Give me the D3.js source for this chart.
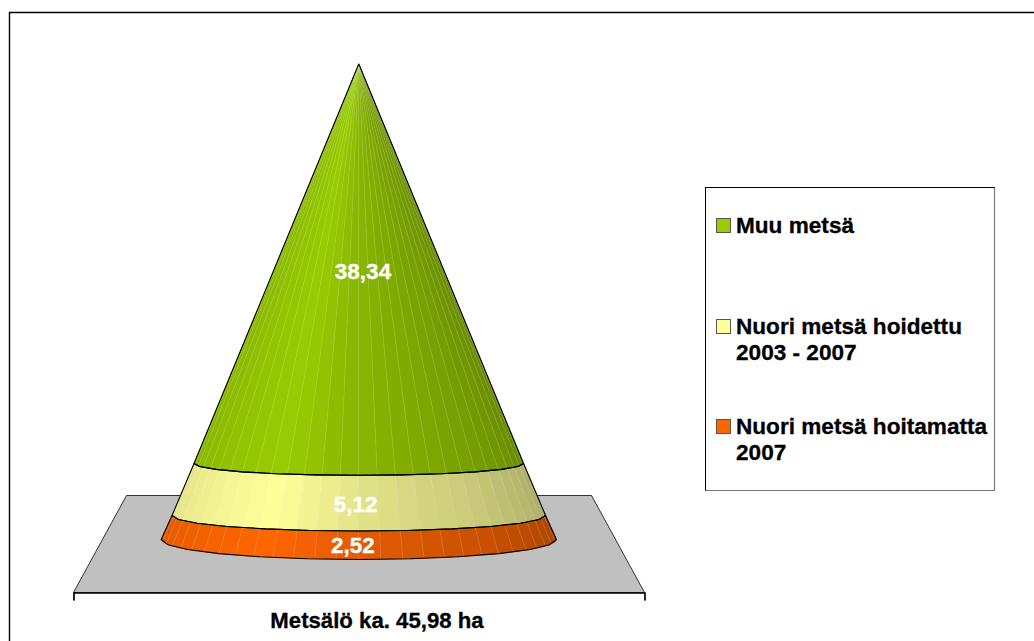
<!DOCTYPE html>
<html>
<head>
<meta charset="utf-8">
<script src="https://cdnjs.cloudflare.com/ajax/libs/d3/7.8.5/d3.min.js"></script>
<style>
html,body{margin:0;padding:0;background:#fff;overflow:hidden}
svg{display:block}
text{font-family:"Liberation Sans",Arial,sans-serif;font-weight:bold;stroke-width:.3}
</style>
</head>
<body>
<script>
// Data
const seriesNames = [["Nuori metsä hoitamatta","2007"],["Nuori metsä hoidettu","2003 - 2007"],["Muu metsä"]];
const seriesValues = [2.52, 5.12, 38.34];
const valueLabels = ["2,52","5,12","38,34"];
const seriesColors = ["#FF6600","#FFFF99","#99CC00"];
const categoryLabel = "Metsälö ka. 45,98 ha";

// Layout
const W = 1034, H = 641;
const stops = [0, ...d3.cumsum(seriesValues)];
const cx = 358.8;
const y = d3.scaleLinear().domain(stops).range([539.5,515.5,463.5,64]);
const radius = d3.scaleLinear().domain([0,stops[3]]).range([197.6,0]);
const sag = d3.scaleLinear().domain(stops).range([20,15.5,11.8,0]);
const shade = d3.scaleLinear().domain([0,62,90,180]).range([.88,1,.89,.66]);
const facets = 28;
const labelX = [353,355.7,363], labelY = [553,511.7,279];

const svg = d3.select("body").append("svg").attr("width",W).attr("height",H);

// chart frame
svg.append("path").attr("d",`M9.5,${H}V12.5H${W}`).attr("fill","none").attr("stroke","#000").attr("stroke-width",1.4);

// floor
const axisScale = d3.scaleLinear().domain([0,1]).range([73.5,644.5]);
const floorTopInset = 53;
svg.append("path")
  .attr("d",`M${axisScale(0)+floorTopInset},495.5H${axisScale(1)-floorTopInset}L${axisScale(1)},592.5H${axisScale(0)}Z`)
  .attr("fill","#C0C0C0").attr("stroke","#333").attr("stroke-width",1);
const ax = svg.append("g").attr("transform","translate(0,592.5)")
  .call(d3.axisBottom(axisScale).tickValues([0,1]).tickSize(8).tickFormat(""));
ax.selectAll("path,line").attr("stroke","#000").attr("stroke-width",1);
ax.select("path").attr("stroke-width",1.4);
svg.append("text").attr("x",377).attr("y",628).attr("text-anchor","middle").attr("font-size",22.2).attr("fill","#000").attr("stroke","#000").text(categoryLabel);

// cone
const rad = d => d*Math.PI/180;
const ptAt = (v,deg) => [cx - radius(v)*Math.cos(rad(deg)), y(v) + sag(v)*Math.sin(rad(deg))];
const arc = (v,a0,a1) => d3.range(0,13).map(i => ptAt(v,a0+(a1-a0)*i/12));
const line = d3.line();
const angles = d3.range(0,facets).map(i => [i*180/facets,(i+1)*180/facets]);
const bands = seriesValues.map((d,i)=>({lo:stops[i],hi:stops[i+1],color:seriesColors[i]}));
const cone = svg.append("g");

bands.forEach(b=>{
  const g = cone.append("g");
  g.selectAll("path.facet").data(angles).join("path").attr("class","facet")
    .attr("d",a=>line(arc(b.lo,a[0],a[1]).concat(arc(b.hi,a[1],a[0])))+"Z")
    .attr("fill",a=>d3.interpolateRgb("#000",b.color)(shade((a[0]+a[1])/2)))
    .attr("stroke",a=>d3.interpolateRgb("#000",b.color)(shade((a[0]+a[1])/2)))
    .attr("stroke-width",.5);
  g.selectAll("path.seam").data(angles.slice(1)).join("path").attr("class","seam")
    .attr("d",a=>line([ptAt(b.lo,a[0]),ptAt(b.hi,a[0])]))
    .attr("stroke","#fff").attr("stroke-opacity",.2).attr("stroke-width",.7).attr("fill","none");
});
bands.forEach(b=>{
  cone.append("path")
    .attr("d",line(arc(b.lo,0,180).concat(arc(b.hi,180,0)))+"Z")
    .attr("fill","none").attr("stroke","#000").attr("stroke-width",1.1).attr("stroke-linejoin","round");
});

// value labels
svg.append("g").selectAll("text").data(valueLabels).join("text")
  .attr("x",(d,i)=>labelX[i]).attr("y",(d,i)=>labelY[i]).attr("text-anchor","middle")
  .attr("font-size",22.5).attr("fill","#fff").attr("stroke","#fff").text(d=>d);

// legend
const lg = svg.append("g");
lg.append("rect").attr("x",705.5).attr("y",187.5).attr("width",289).attr("height",303).attr("fill","#fff").attr("stroke","#000").attr("stroke-width",1);
lg.append("path").attr("d","M994.5,187.5V490.5H705.5").attr("fill","none").attr("stroke","#777").attr("stroke-width",1.2);
const legendBase = [434,334,233];
const items = lg.selectAll("g.item").data(seriesNames).join("g").attr("class","item");
items.append("rect").attr("x",716.5).attr("y",(d,i)=>legendBase[i]-14.5).attr("width",14).attr("height",14)
  .attr("fill",(d,i)=>seriesColors[i]).attr("stroke","#555").attr("stroke-width",1);
items.selectAll("text").data((d,i)=>d.map((t,j)=>({t,y:legendBase[i]+j*26}))).join("text")
  .attr("x",736).attr("y",d=>d.y).attr("font-size",22.6).attr("fill","#000").attr("stroke","#000").text(d=>d.t);
</script>
</body>
</html>
